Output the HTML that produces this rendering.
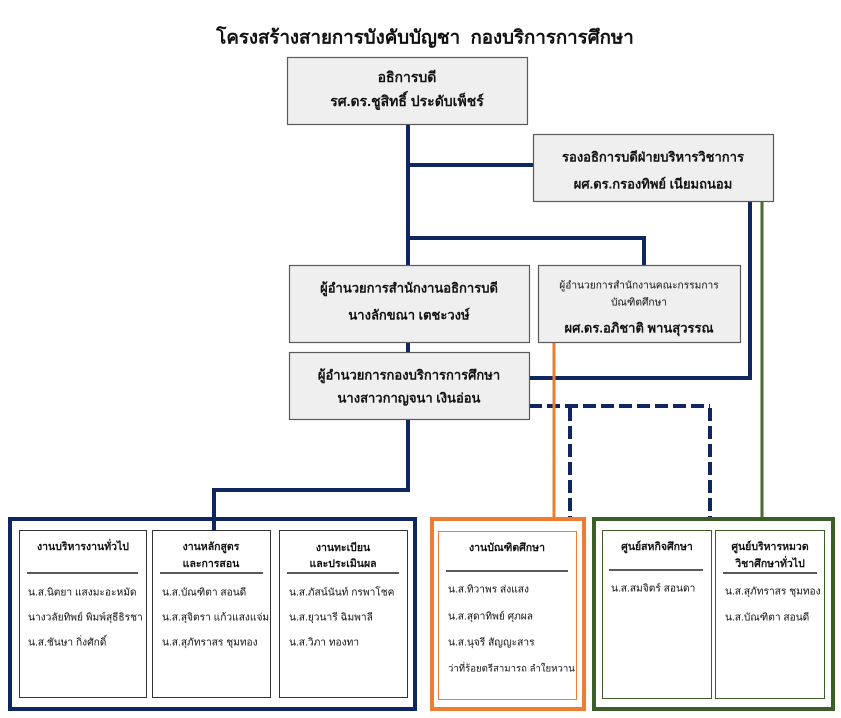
<!DOCTYPE html>
<html>
<head>
<meta charset="utf-8">
<style>
  html, body { margin:0; padding:0; background:#fff; }
  body { width:841px; height:718px; overflow:hidden; }
  svg { display:block; }
  text { font-family: "Liberation Sans", "DejaVu Sans", sans-serif; fill:#111; }
  .b { font-weight:bold; }
</style>
</head>
<body>
<svg width="841" height="718" viewBox="0 0 841 718" xmlns="http://www.w3.org/2000/svg">
  <!-- Title -->
  <text x="425" y="37" text-anchor="middle" dominant-baseline="central" class="b" font-size="18.7" xml:space="preserve">โครงสร้างสายการบังคับบัญชา&#160;&#160;กองบริการการศึกษา</text>

  <!-- Connectors (navy) -->
  <g stroke="#0f2660" stroke-width="4" fill="none" stroke-linecap="butt">
    <line x1="408" y1="124" x2="408" y2="265"/>
    <line x1="408" y1="165" x2="533" y2="165"/>
    <polyline points="408,238 644,238 644,265"/>
    <line x1="408" y1="342" x2="408" y2="352"/>
    <polyline points="529,378 750,378 750,201" stroke-width="4"/>
    <polyline points="408,419 408,490 214,490 214,530"/>
  </g>
  <!-- dashed -->
  <g stroke="#0f2660" stroke-width="4" fill="none" stroke-dasharray="13,5">
    <line x1="529" y1="406" x2="710" y2="406"/>
    <line x1="570" y1="408" x2="570" y2="517"/>
    <line x1="710" y1="408" x2="710" y2="517"/>
  </g>
  <!-- orange / green verticals -->
  <line x1="554" y1="342" x2="554" y2="517" stroke="#ed7d31" stroke-width="3"/>
  <line x1="762" y1="201" x2="762" y2="517" stroke="#4a6a32" stroke-width="3"/>

  <!-- Top boxes -->
  <g fill="#efefef" stroke="#5a5a5a" stroke-width="1.2">
    <rect x="287.5" y="57.5" width="240" height="67"/>
    <rect x="533.5" y="134.5" width="240" height="67"/>
    <rect x="289.5" y="265.5" width="240" height="77"/>
    <rect x="538.5" y="265.5" width="202" height="77"/>
    <rect x="289.5" y="352.5" width="240" height="67"/>
  </g>

  <g class="b" font-size="13" text-anchor="middle">
    <text x="407" y="77" dominant-baseline="central" font-size="14">อธิการบดี</text>
    <text x="407" y="101" dominant-baseline="central" font-size="14">รศ.ดร.ชูสิทธิ์ ประดับเพ็ชร์</text>

    <text x="653" y="157" dominant-baseline="central">รองอธิการบดีฝ่ายบริหารวิชาการ</text>
    <text x="653" y="184" dominant-baseline="central">ผศ.ดร.กรองทิพย์ เนียมถนอม</text>

    <text x="409" y="288" dominant-baseline="central">ผู้อำนวยการสำนักงานอธิการบดี</text>
    <text x="409" y="315" dominant-baseline="central">นางลักขณา เตชะวงษ์</text>

    <text x="639" y="286" dominant-baseline="central" font-size="10.2" font-weight="normal">ผู้อำนวยการสำนักงานคณะกรรมการ</text>
    <text x="639" y="303" dominant-baseline="central" font-size="10.2" font-weight="normal">บัณฑิตศึกษา</text>
    <text x="639" y="328" dominant-baseline="central">ผศ.ดร.อภิชาติ พานสุวรรณ</text>

    <text x="409" y="375" dominant-baseline="central">ผู้อำนวยการกองบริการการศึกษา</text>
    <text x="409" y="398" dominant-baseline="central">นางสาวกาญจนา เงินอ่อน</text>
  </g>

  <!-- Bottom outer boxes -->
  <rect x="10" y="519" width="405" height="190" fill="none" stroke="#0f2660" stroke-width="4"/>
  <rect x="432" y="519" width="152" height="190" fill="none" stroke="#ed7d31" stroke-width="4"/>
  <rect x="594" y="519" width="239" height="190" fill="none" stroke="#3c5c28" stroke-width="4"/>

  <!-- inner boxes -->
  <g fill="#fff" stroke="#333" stroke-width="1">
    <rect x="19.5" y="530.5" width="127" height="167"/>
    <rect x="152.5" y="530.5" width="118" height="167"/>
    <rect x="279.5" y="530.5" width="128" height="167"/>
  </g>
  <rect x="438.5" y="531.5" width="138" height="168" fill="#fff" stroke="#ed7d31" stroke-width="1"/>
  <g fill="#fff" stroke="#3c5c28" stroke-width="1">
    <rect x="602.5" y="530.5" width="109" height="168"/>
    <rect x="715.5" y="530.5" width="109" height="168"/>
  </g>
  <line x1="214" y1="517" x2="214" y2="531" stroke="#0f2660" stroke-width="4"/>

  <!-- dividers -->
  <g stroke="#222" stroke-width="1.4">
    <line x1="27" y1="573" x2="138" y2="573"/>
    <line x1="160" y1="573" x2="263" y2="573"/>
    <line x1="287" y1="573" x2="399" y2="573"/>
    <line x1="446" y1="571" x2="568" y2="571"/>
    <line x1="609" y1="570" x2="703" y2="570"/>
    <line x1="723" y1="573" x2="817" y2="573"/>
  </g>

  <!-- headers -->
  <g class="b" font-size="10.5" text-anchor="middle">
    <text x="83" y="547" dominant-baseline="central">งานบริหารงานทั่วไป</text>
    <text x="211" y="547" dominant-baseline="central">งานหลักสูตร</text>
    <text x="211" y="564" dominant-baseline="central">และการสอน</text>
    <text x="343" y="548" dominant-baseline="central">งานทะเบียน</text>
    <text x="343" y="564" dominant-baseline="central">และประเมินผล</text>
    <text x="507" y="548" dominant-baseline="central">งานบัณฑิตศึกษา</text>
    <text x="657" y="547" dominant-baseline="central">ศูนย์สหกิจศึกษา</text>
    <text x="770" y="547" dominant-baseline="central">ศูนย์บริหารหมวด</text>
    <text x="770" y="564" dominant-baseline="central">วิชาศึกษาทั่วไป</text>
  </g>

  <!-- names -->
  <g font-size="10.2" fill="#222">
    <text x="28" y="593" dominant-baseline="central">น.ส.นิตยา แสงมะอะหมัด</text>
    <text x="28" y="618" dominant-baseline="central">นางวลัยทิพย์ พิมพ์สุธีธิรชา</text>
    <text x="28" y="643" dominant-baseline="central">น.ส.ชันษา กิ่งศักดิ์</text>

    <text x="162" y="593" dominant-baseline="central">น.ส.บัณฑิตา สอนดี</text>
    <text x="162" y="618" dominant-baseline="central">น.ส.สุจิตรา แก้วแสงแจ่ม</text>
    <text x="162" y="643" dominant-baseline="central">น.ส.สุภัทราสร ชุมทอง</text>

    <text x="289" y="593" dominant-baseline="central">น.ส.ภัสน์นันท์ กรพาโชค</text>
    <text x="289" y="618" dominant-baseline="central">น.ส.ยุวนารี ฉิมพาลี</text>
    <text x="289" y="643" dominant-baseline="central">น.ส.วิภา ทองทา</text>

    <text x="448" y="590" dominant-baseline="central">น.ส.ทิวาพร ส่งแสง</text>
    <text x="448" y="617" dominant-baseline="central">น.ส.สุดาทิพย์ ศุภผล</text>
    <text x="448" y="643" dominant-baseline="central">น.ส.นุจรี สัญญะสาร</text>
    <text x="448" y="669" dominant-baseline="central" font-size="9.6">ว่าที่ร้อยตรีสามารถ ลำใยหวาน</text>

    <text x="611" y="589" dominant-baseline="central">น.ส.สมจิตร์ สอนดา</text>

    <text x="725" y="592" dominant-baseline="central">น.ส.สุภัทราสร ชุมทอง</text>
    <text x="725" y="618" dominant-baseline="central">น.ส.บัณฑิตา สอนดี</text>
  </g>
</svg>
</body>
</html>
